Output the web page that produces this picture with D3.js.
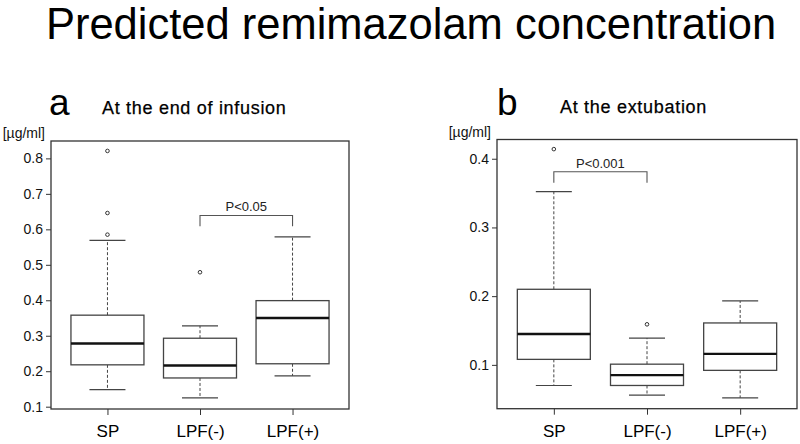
<!DOCTYPE html>
<html>
<head>
<meta charset="utf-8">
<script src="https://cdn.jsdelivr.net/npm/d3@7"></script>
<style>
  body { margin: 0; background: #fff; }
  text { font-family: "Liberation Sans", Arial, sans-serif; }
</style>
</head>
<body>
<div id="chart"></div>
<script>
const categories = ["SP", "LPF(-)", "LPF(+)"];

// [min, q1, median, q3, max]
const statsA = [
  [0.148, 0.218, 0.278, 0.358, 0.569],
  [0.125, 0.181, 0.216, 0.293, 0.328],
  [0.187, 0.221, 0.350, 0.399, 0.579]
];
const outliersA = [[0.821, 0.646, 0.585], [0.479], []];
const ticksA = [0.1, 0.2, 0.3, 0.4, 0.5, 0.6, 0.7, 0.8];

const statsB = [
  [0.070, 0.108, 0.145, 0.210, 0.352],
  [0.056, 0.070, 0.085, 0.101, 0.139],
  [0.052, 0.092, 0.116, 0.161, 0.193]
];
const outliersB = [[0.414], [0.159], []];
const ticksB = [0.1, 0.2, 0.3, 0.4];

// significance brackets: [fromIndex, toIndex, topValue, legValue, label]
const bracketA = [1, 2, 0.639, 0.609, "P<0.05"];
const bracketB = [0, 1, 0.381, 0.365, "P<0.001"];

const width = 800, height = 444;

const svg = d3.select("#chart").append("svg")
    .attr("width", width)
    .attr("height", height);

svg.append("text")
    .attr("x", 411)
    .attr("y", 39)
    .attr("text-anchor", "middle")
    .attr("font-size", 43.5)
    .attr("fill", "#000")
    .text("Predicted remimazolam concentration");

function panel(opts) {
  const {left, right, top, bottom, domain, stats, outliers, ticks, bracket, letter, subtitle, letterX, subX, headY} = opts;

  const x = d3.scalePoint()
      .domain(categories)
      .range([left, right])
      .padding(0.61);

  const y = d3.scaleLinear()
      .domain(domain)
      .range([bottom, top]);

  const g = svg.append("g");
  const boxW = 73, capW = 36;

  // y axis
  const yAxis = g.append("g")
      .attr("transform", `translate(${left},0)`)
      .call(d3.axisLeft(y).tickValues(ticks).tickSize(5).tickPadding(3).tickFormat(d3.format(".1f")));
  yAxis.select(".domain").remove();
  yAxis.selectAll("line").attr("stroke", "#333");
  yAxis.selectAll("text")
      .attr("font-size", 14)
      .attr("fill", "#111")
      .style("font-family", "'Liberation Sans', Arial, sans-serif");

  // x axis
  const xAxis = g.append("g")
      .attr("transform", `translate(0,${bottom})`)
      .call(d3.axisBottom(x).tickSize(6).tickPadding(10));
  xAxis.select(".domain").remove();
  xAxis.selectAll("line").attr("stroke", "#333");
  xAxis.selectAll("text")
      .attr("font-size", 17)
      .attr("fill", "#000")
      .style("font-family", "'Liberation Sans', Arial, sans-serif");

  // frame
  g.append("rect")
      .attr("x", left)
      .attr("y", top)
      .attr("width", right - left)
      .attr("height", bottom - top)
      .attr("fill", "none")
      .attr("stroke", "#333")
      .attr("stroke-width", 1.3);

  const boxes = g.selectAll(".box")
    .data(stats)
    .join("g")
      .attr("class", "box");

  // whiskers
  boxes.append("line")
      .attr("x1", (d, i) => x(categories[i]))
      .attr("x2", (d, i) => x(categories[i]))
      .attr("y1", d => y(d[3]))
      .attr("y2", d => y(d[4]))
      .attr("stroke", "#444")
      .attr("stroke-dasharray", "3,2");
  boxes.append("line")
      .attr("x1", (d, i) => x(categories[i]))
      .attr("x2", (d, i) => x(categories[i]))
      .attr("y1", d => y(d[1]))
      .attr("y2", d => y(d[0]))
      .attr("stroke", "#444")
      .attr("stroke-dasharray", "3,2");

  // caps
  [0, 4].forEach(k => {
    boxes.append("line")
        .attr("x1", (d, i) => x(categories[i]) - capW / 2)
        .attr("x2", (d, i) => x(categories[i]) + capW / 2)
        .attr("y1", d => y(d[k]))
        .attr("y2", d => y(d[k]))
        .attr("stroke", "#444")
        .attr("stroke-width", 1.2);
  });

  boxes.append("rect")
      .attr("x", (d, i) => x(categories[i]) - boxW / 2)
      .attr("width", boxW)
      .attr("y", d => y(d[3]))
      .attr("height", d => y(d[1]) - y(d[3]))
      .attr("fill", "#fff")
      .attr("stroke", "#444")
      .attr("stroke-width", 1.3);

  boxes.append("line")
      .attr("x1", (d, i) => x(categories[i]) - boxW / 2)
      .attr("x2", (d, i) => x(categories[i]) + boxW / 2)
      .attr("y1", d => y(d[2]))
      .attr("y2", d => y(d[2]))
      .attr("stroke", "#111")
      .attr("stroke-width", 2.4);

  // outliers
  outliers.forEach((vals, i) => {
    g.selectAll(null)
      .data(vals)
      .join("circle")
        .attr("cx", x(categories[i]))
        .attr("cy", d => y(d))
        .attr("r", 1.8)
        .attr("fill", "none")
        .attr("stroke", "#333")
        .attr("stroke-width", 1);
  });

  // bracket
  const [bi, bj, bTop, bLeg, bLabel] = bracket;
  const x1 = x(categories[bi]), x2 = x(categories[bj]);
  g.append("path")
      .attr("d", `M${x1},${y(bLeg)}V${y(bTop)}H${x2}V${y(bLeg)}`)
      .attr("fill", "none")
      .attr("stroke", "#555")
      .attr("stroke-width", 1.1);
  g.append("text")
      .attr("x", (x1 + x2) / 2)
      .attr("y", y(bTop) - 4)
      .attr("text-anchor", "middle")
      .attr("font-size", 13)
      .attr("fill", "#222")
      .text(bLabel);

  // unit label
  g.append("text")
      .attr("x", left - 6)
      .attr("y", top - 3)
      .attr("text-anchor", "end")
      .attr("font-size", 14)
      .attr("fill", "#111")
      .text("[µg/ml]");

  // panel letter and subtitle
  g.append("text")
      .attr("x", letterX)
      .attr("y", 115)
      .attr("font-size", 37)
      .attr("fill", "#000")
      .text(letter);
  g.append("text")
      .attr("x", subX)
      .attr("y", headY)
      .attr("font-size", 18)
      .attr("letter-spacing", 0.7)
      .attr("fill", "#000")
      .attr("stroke", "#000")
      .attr("stroke-width", 0.25)
      .text(subtitle);
}

panel({
  left: 51, right: 349, top: 141, bottom: 409,
  domain: [0.0935, 0.849],
  stats: statsA, outliers: outliersA, ticks: ticksA, bracket: bracketA,
  letter: "a", subtitle: "At the end of infusion",
  letterX: 49, subX: 102, headY: 114
});

panel({
  left: 497, right: 797, top: 139.5, bottom: 408.7,
  domain: [0.0362, 0.428],
  stats: statsB, outliers: outliersB, ticks: ticksB, bracket: bracketB,
  letter: "b", subtitle: "At the extubation",
  letterX: 497, subX: 560, headY: 112.5
});
</script>
</body>
</html>
